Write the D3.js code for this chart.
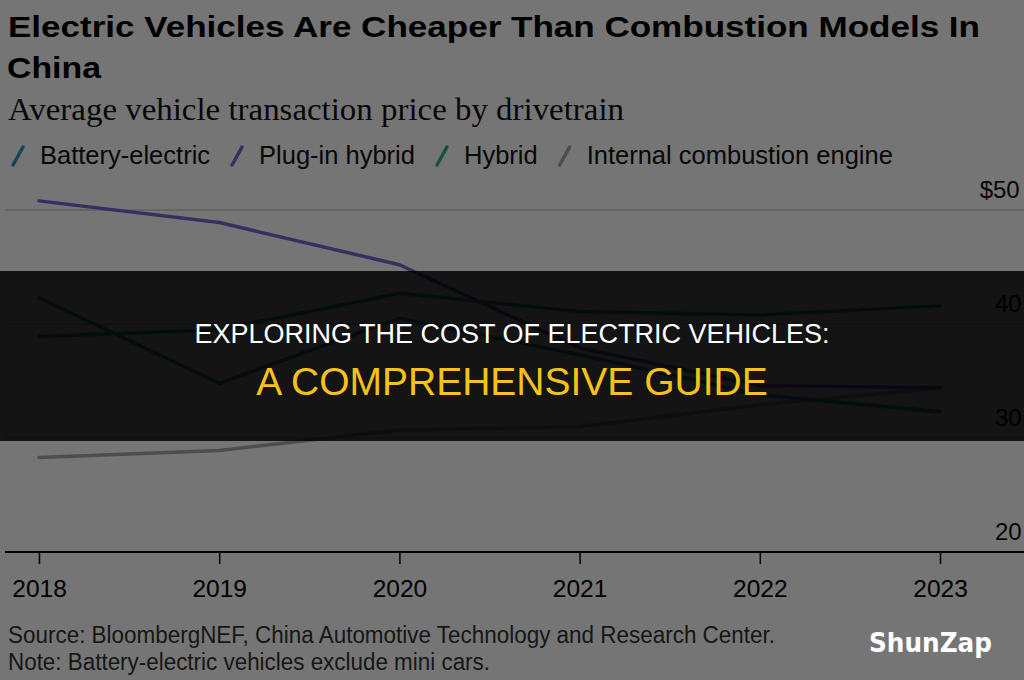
<!DOCTYPE html>
<html><head><meta charset="utf-8">
<script src="https://cdn.jsdelivr.net/npm/d3@7"></script>
<style>html,body{margin:0;padding:0;background:#fff;overflow:hidden}</style>
</head><body>
<svg id="c" width="1024" height="680"></svg>
<script>
const years = [2018, 2019, 2020, 2021, 2022, 2023];
const batteryElectric = [42.3, 34.8, 40.5, 37.3, 33.8, 32.3];
const plugInHybrid = [50.8, 48.9, 45.2, 37.9, 34.6, 34.4];
const hybrid = [38.9, 39.5, 42.7, 41.1, 40.8, 41.6];
const combustion = [28.3, 28.9, 30.7, 31.0, 32.9, 34.4];
const seriesNames = ["Battery-electric", "Plug-in hybrid", "Hybrid", "Internal combustion engine"];
const seriesColors = ["#2a9bbd", "#7a66d4", "#2bb58c", "#a8a8a8"];
const yTicks = [20, 30, 40, 50];
const yTickLabels = ["20", "30", "40", "$50"];
const titleLines = ["Electric Vehicles Are Cheaper Than Combustion Models In", "China"];
const subtitle = "Average vehicle transaction price by drivetrain";
const notes = ["Source: BloombergNEF, China Automotive Technology and Research Center.", "Note: Battery-electric vehicles exclude mini cars."];
const bannerLines = ["EXPLORING THE COST OF ELECTRIC VEHICLES:", "A COMPREHENSIVE GUIDE"];
const brand = "ShunZap";

const seriesValues = [batteryElectric, plugInHybrid, hybrid, combustion];
const series = seriesNames.map((n, i) => ({name: n, color: seriesColors[i], values: seriesValues[i]}));

const svg = d3.select("#c");
const W = 1024, H = 680;
const sans = "'Liberation Sans', Arial, sans-serif";

svg.append("rect").attr("width", W).attr("height", H).attr("fill", "#fff");

const x = d3.scaleLinear().domain([2018, 2023]).range([39, 940]);
const y = d3.scaleLinear().domain([20, 50]).range([552, 210]);

// Title
svg.append("text").attr("x", 8).attr("y", 37).text(titleLines[0])
  .attr("font-family", sans).attr("font-weight", "bold").attr("font-size", 30)
  .attr("fill", "#000").attr("textLength", 972).attr("lengthAdjust", "spacingAndGlyphs");
svg.append("text").attr("x", 7).attr("y", 78).text(titleLines[1])
  .attr("font-family", sans).attr("font-weight", "bold").attr("font-size", 30)
  .attr("fill", "#000").attr("textLength", 94).attr("lengthAdjust", "spacingAndGlyphs");
svg.append("text").attr("x", 8).attr("y", 120).text(subtitle)
  .attr("font-family", "'Liberation Serif', 'DejaVu Serif', serif").attr("font-size", 31)
  .attr("fill", "#111").attr("textLength", 616).attr("lengthAdjust", "spacingAndGlyphs");

// Legend
let lx = 12;
series.forEach(s => {
  const g = svg.append("g");
  g.append("line").attr("x1", lx + 1).attr("y1", 165).attr("x2", lx + 11).attr("y2", 147)
    .attr("stroke", s.color).attr("stroke-width", 3.5).attr("stroke-linecap", "round");
  const t = g.append("text").attr("x", lx + 28).attr("y", 164).text(s.name)
    .attr("font-family", sans).attr("font-size", 25.5).attr("fill", "#111");
  lx = lx + 28 + t.node().getComputedTextLength() + 21;
});

// Gridlines
const grid = svg.append("g");
yTicks.filter(v => v > 20).forEach(v => {
  grid.append("line").attr("x1", 5).attr("x2", W).attr("y1", y(v)).attr("y2", y(v))
    .attr("stroke", "#d2d2d2").attr("stroke-width", 1.5);
});
// Y labels (above gridlines, right side)
yTicks.forEach((v, i) => {
  const t = svg.append("text").attr("x", 995).attr("y", y(v) - 12).text(yTickLabels[i])
    .attr("font-family", sans).attr("font-size", 24).attr("fill", "#111");
  if (yTickLabels[i].startsWith("$")) {
    const w = t.node().getSubStringLength(0, 1);
    t.attr("x", 995 - w - 2);
  }
});

// Lines
const line = d3.line().x((d, i) => x(years[i])).y(d => y(d));
const order = [3, 2, 0, 1];
order.forEach(k => {
  const s = series[k];
  svg.append("path").attr("d", line(s.values)).attr("fill", "none")
    .attr("stroke", s.color).attr("stroke-width", 3.5)
    .attr("stroke-linejoin", "round").attr("stroke-linecap", "round");
});

// X axis
svg.append("line").attr("x1", 5).attr("x2", W).attr("y1", y(20)).attr("y2", y(20))
  .attr("stroke", "#000").attr("stroke-width", 2);
const xAxis = d3.axisBottom(x).tickValues(years).tickSize(12).tickFormat(d3.format("d"));
const ax = svg.append("g").attr("transform", `translate(0,${y(20)})`).call(xAxis);
ax.select(".domain").remove();
ax.selectAll(".tick line").attr("stroke", "#000").attr("stroke-width", 1.5);
ax.selectAll(".tick text").attr("y", 45).attr("dy", 0)
  .attr("font-family", sans).attr("font-size", 24.5).attr("fill", "#000");

// Notes
svg.append("text").attr("x", 8).attr("y", 643).text(notes[0])
  .attr("font-family", sans).attr("font-size", 23).attr("fill", "#333")
  .attr("textLength", 767).attr("lengthAdjust", "spacingAndGlyphs");
svg.append("text").attr("x", 8).attr("y", 670).text(notes[1])
  .attr("font-family", sans).attr("font-size", 23).attr("fill", "#333")
  .attr("textLength", 482).attr("lengthAdjust", "spacingAndGlyphs");

// Dim overlay
svg.append("rect").attr("width", W).attr("height", H).attr("fill", "#000").attr("opacity", 0.54);

// Banner
svg.append("rect").attr("x", 0).attr("y", 271).attr("width", W).attr("height", 170)
  .attr("fill", "#000").attr("opacity", 0.83);
svg.append("text").attr("x", 512).attr("y", 343).attr("text-anchor", "middle").text(bannerLines[0])
  .attr("font-family", sans).attr("font-size", 27).attr("fill", "#fff");
svg.append("text").attr("x", 512).attr("y", 395).attr("text-anchor", "middle").text(bannerLines[1])
  .attr("font-family", sans).attr("font-size", 39).attr("fill", "#f5c21b");

// Brand
svg.append("text").attr("x", 869).attr("y", 652).text(brand)
  .attr("font-family", "'DejaVu Sans', sans-serif").attr("font-weight", "bold").attr("font-size", 26)
  .attr("fill", "#fff").attr("textLength", 123).attr("lengthAdjust", "spacingAndGlyphs");
</script>
</body></html>
